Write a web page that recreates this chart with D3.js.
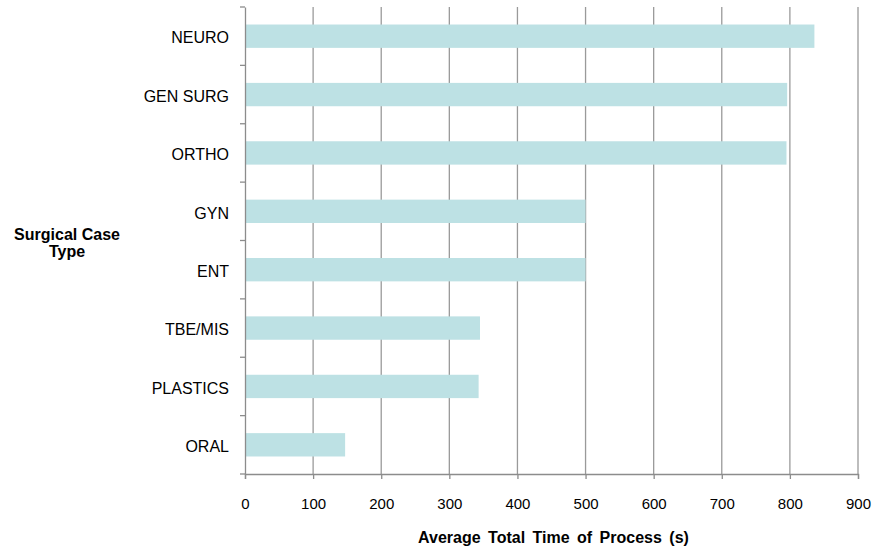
<!DOCTYPE html>
<html>
<head>
<meta charset="utf-8">
<script src="https://cdn.jsdelivr.net/npm/d3@7/dist/d3.min.js"></script>
<style>
  body { margin: 0; background: #fff; }
  text { font-family: "Liberation Sans", Arial, sans-serif; }
</style>
</head>
<body>
<script>
// data
const caseTypes = ["NEURO", "GEN SURG", "ORTHO", "GYN", "ENT", "TBE/MIS", "PLASTICS", "ORAL"];
const avgTime = [836, 796, 795, 500, 500, 345, 343, 147];
const xTicks = [0, 100, 200, 300, 400, 500, 600, 700, 800, 900];

const margin = {top: 7, right: 17, bottom: 74, left: 245};
const width = 875 - margin.left - margin.right;
const height = 548 - margin.top - margin.bottom;

const svg = d3.select("body")
    .append("svg")
    .attr("width", 875)
    .attr("height", 548)
    .append("g")
    .attr("transform", `translate(${margin.left},${margin.top})`);

const xScale = d3.scaleLinear()
    .domain([0, 900])
    .range([0, width]);

const yScale = d3.scaleBand()
    .domain(caseTypes)
    .range([0, height])
    .paddingInner(0.6)
    .paddingOuter(0.3);

// vertical gridlines
svg.selectAll("line.grid")
    .data(xTicks.slice(1))
    .enter()
    .append("line")
    .attr("class", "grid")
    .attr("x1", d => xScale(d))
    .attr("x2", d => xScale(d))
    .attr("y1", 0)
    .attr("y2", height)
    .attr("stroke", "#9a9a9a")
    .attr("stroke-width", 1.3);

// bars
svg.selectAll("rect")
    .data(caseTypes)
    .enter()
    .append("rect")
    .attr("x", 0)
    .attr("y", d => yScale(d))
    .attr("width", (d, i) => xScale(avgTime[i]))
    .attr("height", yScale.bandwidth())
    .attr("fill", "#bde1e4");

// X axis
const xAxis = svg.append("g")
    .attr("transform", `translate(0,${height})`)
    .call(d3.axisBottom(xScale).tickValues(xTicks).tickSize(5).tickPadding(19));
xAxis.select(".domain").attr("stroke", "#8c8c8c").attr("stroke-width", 1.3);
xAxis.selectAll(".tick line").attr("stroke", "#8c8c8c").attr("stroke-width", 1.3);
xAxis.selectAll("text").style("font-size", "15px").attr("fill", "#000");

// Y axis: labels at band centres, ticks at band edges
const yAxis = svg.append("g")
    .call(d3.axisLeft(yScale).tickSize(0).tickPadding(16));
yAxis.select(".domain").attr("stroke", "#8c8c8c").attr("stroke-width", 1.3);
yAxis.selectAll("text").style("font-size", "16px").attr("dy", "0.45em").attr("fill", "#000");

const edges = d3.range(caseTypes.length + 1).map(i => i * yScale.step());
svg.selectAll("line.ytick")
    .data(edges)
    .enter()
    .append("line")
    .attr("class", "ytick")
    .attr("x1", -5)
    .attr("x2", 0)
    .attr("y1", d => d)
    .attr("y2", d => d)
    .attr("stroke", "#8c8c8c")
    .attr("stroke-width", 1.3);

// X axis label
svg.append("text")
    .attr("x", width / 2 + 2)
    .attr("y", height + 69)
    .style("text-anchor", "middle")
    .style("font-size", "16px")
    .style("font-weight", "bold")
    .style("word-spacing", "3px")
    .text("Average Total Time of Process (s)");

// Y axis label
const yx = -margin.left + 67;
const yLabel = svg.append("text")
    .attr("x", yx)
    .attr("y", 233)
    .style("text-anchor", "middle")
    .style("font-size", "16px")
    .style("font-weight", "bold");
yLabel.append("tspan").attr("x", yx).text("Surgical Case");
yLabel.append("tspan").attr("x", yx).attr("dy", 17).text("Type");
</script>
</body>
</html>
